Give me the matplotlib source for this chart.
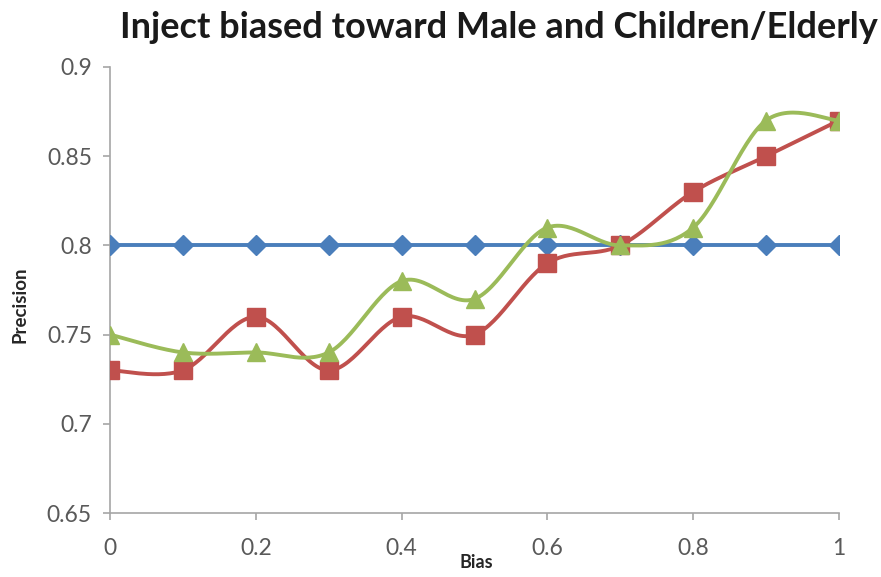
import numpy as np
import matplotlib
matplotlib.use("Agg")
import matplotlib.pyplot as plt

bias = [0.0, 0.1, 0.2, 0.3, 0.4, 0.5, 0.6, 0.7, 0.8, 0.9, 1.0]
baseline = [0.80, 0.80, 0.80, 0.80, 0.80, 0.80, 0.80, 0.80, 0.80, 0.80, 0.80]
series_red = [0.73, 0.73, 0.76, 0.73, 0.76, 0.75, 0.79, 0.80, 0.83, 0.85, 0.87]
series_green = [0.75, 0.74, 0.74, 0.74, 0.78, 0.77, 0.81, 0.80, 0.81, 0.87, 0.87]

x_ticks = [0, 0.2, 0.4, 0.6, 0.8, 1]
x_tick_labels = ["0", "0.2", "0.4", "0.6", "0.8", "1"]
y_ticks = [0.65, 0.7, 0.75, 0.8, 0.85, 0.9]
y_tick_labels = ["0.65", "0.7", "0.75", "0.8", "0.85", "0.9"]


def smooth(xs, ys, n=30):
    """Catmull-Rom curve through the points (spreadsheet-style smoothed line)."""
    p = np.column_stack([xs, ys]).astype(float)
    p = np.vstack([p[0], p, p[-1]])
    out = []
    t = np.linspace(0, 1, n, endpoint=False)[:, None]
    for i in range(1, len(p) - 2):
        p0, p1, p2, p3 = p[i - 1], p[i], p[i + 1], p[i + 2]
        seg = 0.5 * ((2 * p1) + (-p0 + p2) * t
                     + (2 * p0 - 5 * p1 + 4 * p2 - p3) * t ** 2
                     + (-p0 + 3 * p1 - 3 * p2 + p3) * t ** 3)
        out.append(seg)
    out.append(p[-2][None, :])
    out = np.vstack(out)
    return out[:, 0], out[:, 1]


plt.rcParams["font.family"] = ["Lato", "DejaVu Sans"]

fig = plt.figure(figsize=(8.81, 5.77), dpi=100)
ax = fig.add_axes([0.1249, 0.1109, 0.8274, 0.773])

blue = "#4A7EBB"
red = "#C0504D"
green = "#9BBB59"

ax.plot(bias, baseline, color=blue, lw=2.8, marker="D", ms=10,
        markeredgecolor=blue, zorder=3)

sx, sy = smooth(bias, series_red)
ax.plot(sx, sy, color=red, lw=2.8, zorder=4)
ax.plot(bias, series_red, ls="none", marker="s", ms=13, color=red, zorder=4)

sx, sy = smooth(bias, series_green)
ax.plot(sx, sy, color=green, lw=2.8, zorder=5)
ax.plot(bias, series_green, ls="none", marker="^", ms=13, color=green, zorder=5)

ax.set_xlim(0, 1)
ax.set_ylim(0.65, 0.9)
ax.set_xticks(x_ticks)
ax.set_xticklabels(x_tick_labels)
ax.set_yticks(y_ticks)
ax.set_yticklabels(y_tick_labels)

axis_grey = "#A6A6A6"
for side in ["top", "right"]:
    ax.spines[side].set_visible(False)
for side in ["left", "bottom"]:
    ax.spines[side].set_color(axis_grey)
    ax.spines[side].set_linewidth(1.2)
ax.tick_params(axis="both", colors=axis_grey, length=5, width=1.2,
               labelcolor="#595959", labelsize=16.5)
ax.tick_params(axis="y", pad=8)
ax.tick_params(axis="x", pad=13)

ax.set_xlabel("Bias", fontsize=13, fontweight="bold", color="#262626")
ax.xaxis.set_label_coords(0.502, -0.092)
ax.set_ylabel("Precision", fontsize=13.5, fontweight="bold", color="#262626")
ax.yaxis.set_label_coords(-0.112, 0.466)

fig.text(0.566, 0.953, "Inject biased toward Male and Children/Elderly",
         ha="center", va="center", fontsize=26, fontweight="bold",
         color="#1a1a1a")

fig.savefig("out.png", dpi=100)
